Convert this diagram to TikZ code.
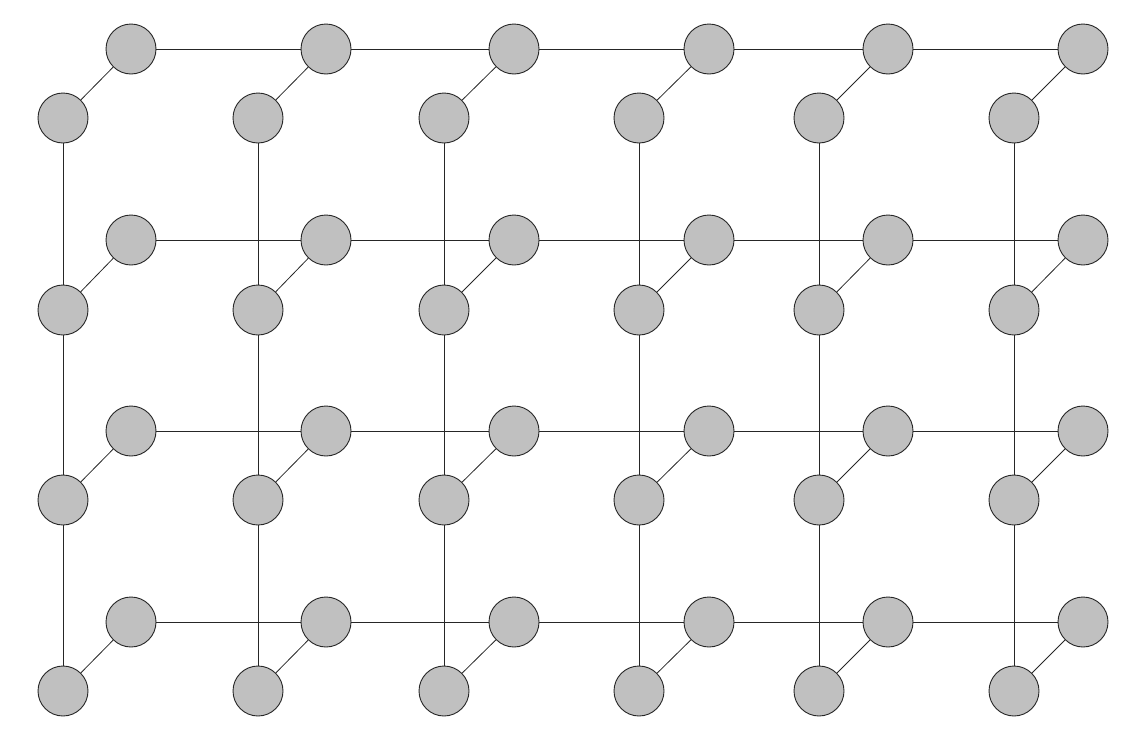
\documentclass[tikz,border=0pt]{standalone}
\usetikzlibrary{backgrounds}
\begin{document}
\begin{tikzpicture}[x=1pt,y=-1pt,
  ball/.style={circle,draw=black!85,fill={rgb,255:red,192;green,192;blue,192},minimum size=50pt,inner sep=0pt,line width=0.9pt},
  link/.style={draw=black!85,line width=0.8pt}]
\useasboundingbox (0,0) rectangle (1146,742);
\def\lx{{63,258,444,639,819,1014}}
\def\ux{{131,326,514,709,888,1083}}
\def\ly{{118,310,500,691}}
\def\uy{{49,240,431,622}}
\foreach \c in {0,...,5}{
  \foreach \r in {0,...,3}{
    \pgfmathsetmacro\xa{\lx[\c]}
    \pgfmathsetmacro\ya{\ly[\r]}
    \pgfmathsetmacro\xb{\ux[\c]}
    \pgfmathsetmacro\yb{\uy[\r]}
    \node[ball] (L\c\r) at (\xa,\ya) {};
    \node[ball] (U\c\r) at (\xb,\yb) {};
  }
}
\begin{pgfonlayer}{background}
\foreach \c in {0,...,5}{
  \foreach \r in {0,...,3}{
    \draw[link] (L\c\r) -- (U\c\r);
  }
  \draw[link] (L\c0) -- (L\c3);
}
\foreach \r in {0,...,3}{
  \draw[link] (U0\r) -- (U5\r);
}
\end{pgfonlayer}
\end{tikzpicture}
\end{document}
